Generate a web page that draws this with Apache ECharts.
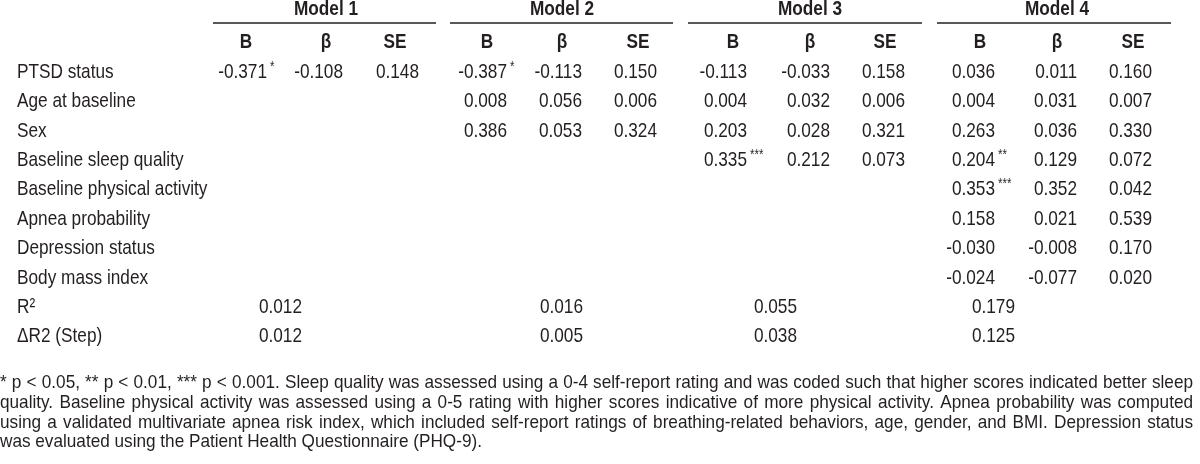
<!DOCTYPE html>
<html>
<head>
<meta charset="utf-8">
<title>Regression table</title>
<script src="https://cdn.jsdelivr.net/npm/echarts@6/dist/echarts.min.js"></script>
<style>
  html, body { margin: 0; padding: 0; background: #fff; }
  #chart { width: 1200px; height: 464px; }
</style>
</head>
<body>
<div id="chart"></div>
<script>
// table content
var rowLabels = ['PTSD status', 'Age at baseline', 'Sex', 'Baseline sleep quality',
  'Baseline physical activity', 'Apnea probability', 'Depression status', 'Body mass index',
  'R²', 'ΔR2 (Step)']
var models = ['Model 1', 'Model 2', 'Model 3', 'Model 4']
var colHeads = ['B', 'β', 'SE']

var m1B = [-0.371]
var m1Beta = [-0.108]
var m1SE = [0.148]
var m1Stars = ['*']

var m2B = [-0.387, 0.008, 0.386]
var m2Beta = [-0.113, 0.056, 0.053]
var m2SE = [0.150, 0.006, 0.324]
var m2Stars = ['*', '', '']

var m3B = [-0.113, 0.004, 0.203, 0.335]
var m3Beta = [-0.033, 0.032, 0.028, 0.212]
var m3SE = [0.158, 0.006, 0.321, 0.073]
var m3Stars = ['', '', '', '***']

var m4B = [0.036, 0.004, 0.263, 0.204, 0.353, 0.158, -0.030, -0.024]
var m4Beta = [0.011, 0.031, 0.036, 0.129, 0.352, 0.021, -0.008, -0.077]
var m4SE = [0.160, 0.007, 0.330, 0.072, 0.042, 0.539, 0.170, 0.020]
var m4Stars = ['', '', '', '**', '***', '', '', '']

var r2 = [0.012, 0.016, 0.055, 0.179]
var deltaR2 = [0.012, 0.005, 0.038, 0.125]

var footnote = [
  '* p < 0.05, ** p < 0.01, *** p < 0.001. Sleep quality was assessed using a 0-4 self-report rating and was coded such that higher scores indicated better sleep',
  'quality. Baseline physical activity was assessed using a 0-5 rating with higher scores indicative of more physical activity. Apnea probability was computed',
  'using a validated multivariate apnea risk index, which included self-report ratings of breathing-related behaviors, age, gender, and BMI. Depression status',
  'was evaluated using the Patient Health Questionnaire (PHQ-9).'
]

// layout (pixels on x, row units on y)
// no narrow face installed, so Liberation Sans is squeezed to look like Arial Narrow
var FONT = '"Liberation Sans", Arial, sans-serif'
var NARROW = 0.82
var INK = '#231f20'
var labelX = 17
var colRight = [[267, 343, 419], [507, 582, 657], [747, 830, 905], [995, 1077, 1152]]
var headCenter = [[246, 326, 395], [487, 562, 638], [733, 810, 885], [980, 1057, 1133]]
var r2Right = [302, 583, 797, 1015]
var ruleSpan = [[213, 436], [450, 673], [688, 922], [937, 1171]]
var rowTop = 72
var rowStep = 29.4
var titleRow = -2.12
var ruleRow = -1.67
var headRow = -1.0

var modelCols = [
  [m1B, m1Beta, m1SE, m1Stars],
  [m2B, m2Beta, m2SE, m2Stars],
  [m3B, m3Beta, m3SE, m3Stars],
  [m4B, m4Beta, m4SE, m4Stars]
]

var labelData = rowLabels.map(function(t, i) { return [labelX, i, t] })

var titleData = models.map(function(t, m) { return [headCenter[m][1], titleRow, t] })

var headData = []
var cellData = []
var starData = []
modelCols.forEach(function(cols, m) {
  colHeads.forEach(function(h, c) {
    headData.push([headCenter[m][c], headRow, h])
    cols[c].forEach(function(v, r) {
      cellData.push([colRight[m][c], r, v.toFixed(3)])
    })
  })
  cols[3].forEach(function(s, r) {
    if (s) starData.push([colRight[m][0] + 3, r, s])
  })
  cellData.push([r2Right[m], 8, r2[m].toFixed(3)])
  cellData.push([r2Right[m], 9, deltaR2[m].toFixed(3)])
})

var ruleData = ruleSpan.map(function(s) {
  return { coords: [[s[0], ruleRow], [s[1], ruleRow]] }
})

function textSeries(name, data, opts) {
  return {
    name: name,
    type: 'custom',
    silent: true,
    data: data,
    encode: { x: 0, y: 1 },
    renderItem: function(params, api) {
      var d = data[params.dataIndex]
      var p = api.coord([d[0], d[1]])
      return {
        type: 'text',
        x: p[0],
        y: p[1] + (opts.dy || 0),
        scaleX: NARROW,
        style: {
          text: d[2],
          font: (opts.weight || 'normal') + ' ' + (opts.size || 21) + 'px ' + FONT,
          fill: INK,
          align: opts.align,
          verticalAlign: 'middle'
        }
      }
    }
  }
}

// footnote, justified like the printed table
var footSize = 18.6
var footFont = footSize + 'px ' + FONT
var footRight = 1193
var measure = document.createElement('canvas').getContext('2d')
measure.font = footFont
// squeeze so the last line ends near x=489 but the justified lines still fit
var footScale = 489 / measure.measureText(footnote[3]).width
footnote.slice(0, 3).forEach(function(line) {
  footScale = Math.min(footScale, 0.99 * footRight / measure.measureText(line).width)
})
var footGraphics = []
footnote.forEach(function(line, i) {
  var y = 383 + i * 19.7
  var words = line.split(' ')
  var widths = words.map(function(w) { return measure.measureText(w).width * footScale })
  var total = widths.reduce(function(a, b) { return a + b }, 0)
  var gap = measure.measureText(' ').width * footScale
  if (i < footnote.length - 1) gap = (footRight - total) / (words.length - 1)
  var x = 0
  words.forEach(function(w, k) {
    footGraphics.push({
      type: 'text', x: x, y: y, scaleX: footScale, silent: true,
      style: { text: w, font: footFont, fill: INK, verticalAlign: 'middle' }
    })
    x += widths[k] + gap
  })
})

var chart = echarts.init(document.getElementById('chart'))
chart.setOption({
  animation: false,
  grid: { left: 0, right: 0, top: 0, bottom: 0 },
  xAxis: { type: 'value', min: 0, max: 1200, show: false },
  yAxis: { type: 'value', inverse: true, min: -rowTop / rowStep, max: (464 - rowTop) / rowStep, show: false },
  graphic: footGraphics,
  series: [
    textSeries('rows', labelData, { align: 'left' }),
    textSeries('models', titleData, { align: 'center', weight: 'bold' }),
    textSeries('heads', headData, { align: 'center', weight: 'bold' }),
    textSeries('cells', cellData, { align: 'right' }),
    textSeries('stars', starData, { align: 'left', size: 14, dy: -5 }),
    {
      name: 'rules',
      type: 'lines',
      coordinateSystem: 'cartesian2d',
      silent: true,
      lineStyle: { color: INK, width: 1.6, opacity: 1 },
      data: ruleData
    }
  ]
})
</script>
</body>
</html>
